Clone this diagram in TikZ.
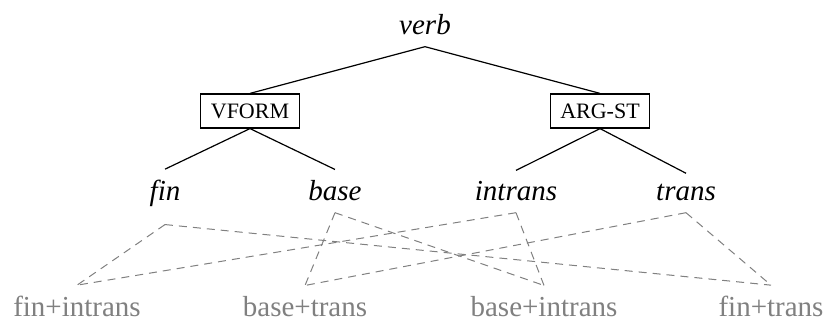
\documentclass[tikz,border=0pt]{standalone}
\usepackage{fontspec}
\setmainfont{Liberation Serif}
\usetikzlibrary{positioning}
\tikzstyle{feat} = [rectangle, draw=black, line width=0.6pt, inner xsep=5pt, minimum height=17pt, font=\fontsize{11}{13}\selectfont]
\tikzstyle{val} = [anchor=base, inner xsep=2pt, inner ysep=5.5pt, font=\fontsize{14.5}{17}\selectfont\itshape]
\tikzstyle{combo} = [anchor=base, inner ysep=0.5pt, text=gray, font=\fontsize{14.5}{17}\selectfont]
\tikzstyle{edge} = [line width=0.6pt]
\tikzstyle{link} = [gray, line width=0.5pt, dash pattern=on 4pt off 3pt]

\begin{document}
\begin{tikzpicture}[x=0.5pt, y=-0.5pt]
				\useasboundingbox (0,0) rectangle (829,324);
				\node (verb) [val] at (425,35) {verb};
				\node (vform) [feat] at (250,111) {VFORM};
				\node (arg_st) [feat] at (600,111) {ARG-ST};
				\draw [edge] (verb.south) -- (vform.north);
				\draw [edge] (verb.south) -- (arg_st.north);
				\node (fin) [val] at (165,201) {fin};
				\node (base) [val] at (335,201) {base};
				\node (intrans) [val] at (516,201) {intrans};
				\node (trans) [val] at (686,201) {trans};
				\draw [edge] (vform.south) -- (fin.north);
				\draw [edge] (vform.south) -- (base.north);
				\draw [edge] (arg_st.south) -- (intrans.north);
				\draw [edge] (arg_st.south) -- (trans.north);
				\node (fin_intrans) [combo] at (77,317) {fin+intrans};
				\node (base_trans) [combo] at (305,317) {base+trans};
				\node (base_intrans) [combo] at (544,317) {base+intrans};
				\node (fin_trans) [combo] at (771,317) {fin+trans};
				% dashed lines end a little above the combined labels
				\draw [link] ([yshift=-3pt]fin.south) -- ([yshift=5pt]fin_intrans.north);
				\draw [link] ([yshift=-3pt]fin.south) -- ([yshift=5pt]fin_trans.north);
				\draw [link] (base.south) -- ([yshift=5pt]base_trans.north);
				\draw [link] (base.south) -- ([yshift=5pt]base_intrans.north);
				\draw [link] (intrans.south) -- ([yshift=5pt]fin_intrans.north);
				\draw [link] (intrans.south) -- ([yshift=5pt]base_intrans.north);
				\draw [link] (trans.south) -- ([yshift=5pt]base_trans.north);
				\draw [link] (trans.south) -- ([yshift=5pt]fin_trans.north);
			\end{tikzpicture}
\end{document}
